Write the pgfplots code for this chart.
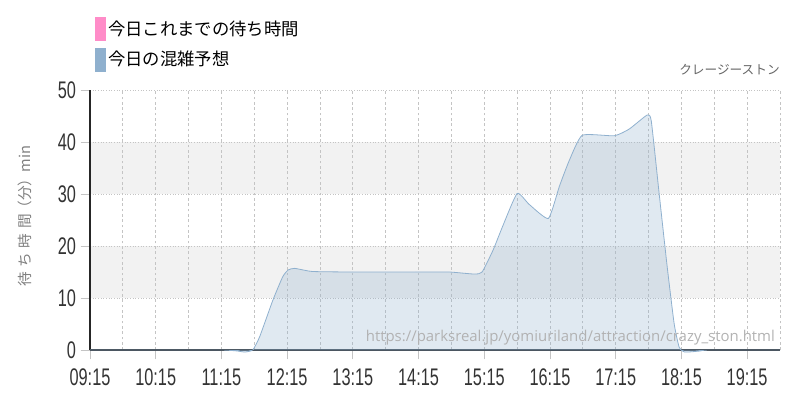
\documentclass[border=0pt]{standalone}
\usepackage{fontspec}
\usepackage{graphicx}
\usepackage{pgfplots}
\pgfplotsset{compat=1.18}
\setmainfont{Liberation Sans}
\newfontfamily\jp{Noto Sans CJK JP}
\newfontfamily\wm{Open Sans}
\definecolor{lineblue}{HTML}{8FB0CE}
\definecolor{pinkc}{HTML}{FF8CC8}
\definecolor{bandgray}{HTML}{F2F2F2}
\definecolor{gridgray}{HTML}{C4C4C4}
\definecolor{ticktext}{HTML}{333333}
\newcommand{\tl}[1]{\scalebox{0.68}[1]{#1}}
\newcommand{\gs}{\hspace{3.5pt}}
\begin{document}
\begin{tikzpicture}[x=1pt,y=1pt]
\path (0,0) rectangle (600,300);
\begin{axis}[
  set layers,
  at={(67.5pt,37.5pt)}, anchor=south west,
  scale only axis, width=517.5pt, height=195pt,
  xmin=0, xmax=630, ymin=0, ymax=50,
  clip=false,
  axis x line=bottom, axis y line=left,
  axis line style={-, draw=black!85, line width=0.8pt},
  xtick={0,60,...,600},
  xticklabels={\tl{09:15},\tl{10:15},\tl{11:15},\tl{12:15},\tl{13:15},\tl{14:15},\tl{15:15},\tl{16:15},\tl{17:15},\tl{18:15},\tl{19:15}},
  minor xtick={30,90,...,630},
  ytick={0,10,...,50},
  yticklabels={\tl{0},\tl{10},\tl{20},\tl{30},\tl{40},\tl{50}},
  tick label style={font=\fontsize{18}{18}\selectfont, text=ticktext},
  x tick label style={yshift=-3.5pt},
  tick align=outside,
  major tick length=7pt, minor tick length=0pt,
  tick style={draw=gridgray, line width=0.6pt},
  xmajorgrids, xminorgrids, ymajorgrids,
  x grid style={draw=gridgray, line width=0.6pt, dash pattern=on 2pt off 2pt},
  minor x grid style={draw=gridgray, line width=0.6pt, dash pattern=on 2pt off 2pt},
  y grid style={draw=gridgray, line width=0.6pt, dash pattern=on 0.8pt off 1.2pt},
  ylabel={待\gs ち\gs 時\gs 間\hspace{-1pt}（分）\hspace{-0.5pt}min},
  ylabel style={font=\jp\fontsize{11}{13}\selectfont, text=black!50, at={(axis description cs:-0.094,0.515)}, anchor=center},
  title={クレージーストン},
  title style={font=\jp\fontsize{9.5}{11}\selectfont, text=black!60, at={(axis description cs:1,1)}, anchor=south east, inner sep=0pt, yshift=5pt},
  legend style={at={(axis description cs:0.007,1.28)}, anchor=north west, draw=none, fill=none,
    font=\jp\fontsize{13}{15}\selectfont, row sep=5.5pt, inner sep=0pt},
  legend cell align=left,
]
\begin{pgfonlayer}{axis background}
\fill[bandgray] (axis cs:0,10) rectangle (axis cs:630,20);
\fill[bandgray] (axis cs:0,30) rectangle (axis cs:630,40);
\end{pgfonlayer}
\addlegendimage{legend image code/.code={\fill[pinkc] (0pt,-8.5pt) rectangle (7.5pt,8.5pt);}}
\addlegendentry{今日これまでの待ち時間}
\addlegendimage{legend image code/.code={\fill[lineblue] (0pt,-8.5pt) rectangle (7.5pt,8.5pt);}}
\addlegendentry{今日の混雑予想}
\addplot[draw=lineblue, line width=0.6pt, fill=lineblue, fill opacity=0.28, smooth, tension=0.3, forget plot] coordinates {
(0,0) (60,0) (120,0) (135,-0.2) (141,-0.4) (148.6,0) (155,2.6) (167,9.6) (176,14.1) (181,15.4) (187,15.7) (203,15.1) (240,15) (300,15) (328,15) (351,14.6) (358,15) (368,19.2) (376.6,23.7) (390,30.1) (401,28) (418.5,25.3) (428.6,31.5) (437.7,36.5) (449.5,41.3) (478.7,41.2) (492.4,42.5) (508.8,45.2) (512.5,44) (519.7,30) (527,16) (533.4,5) (538,0.5) (543,-0.4) (556.7,-0.2) (565,0) (630,0)
} \closedcycle;
\node[anchor=east, font=\wm\fontsize{11.2}{13}\selectfont, text=black!30, inner sep=0pt] at (axis description cs:0.993,0.046) {https://parksreal.jp/yomiuriland/attraction/crazy\_ston.html};
\end{axis}
\end{tikzpicture}
\end{document}
